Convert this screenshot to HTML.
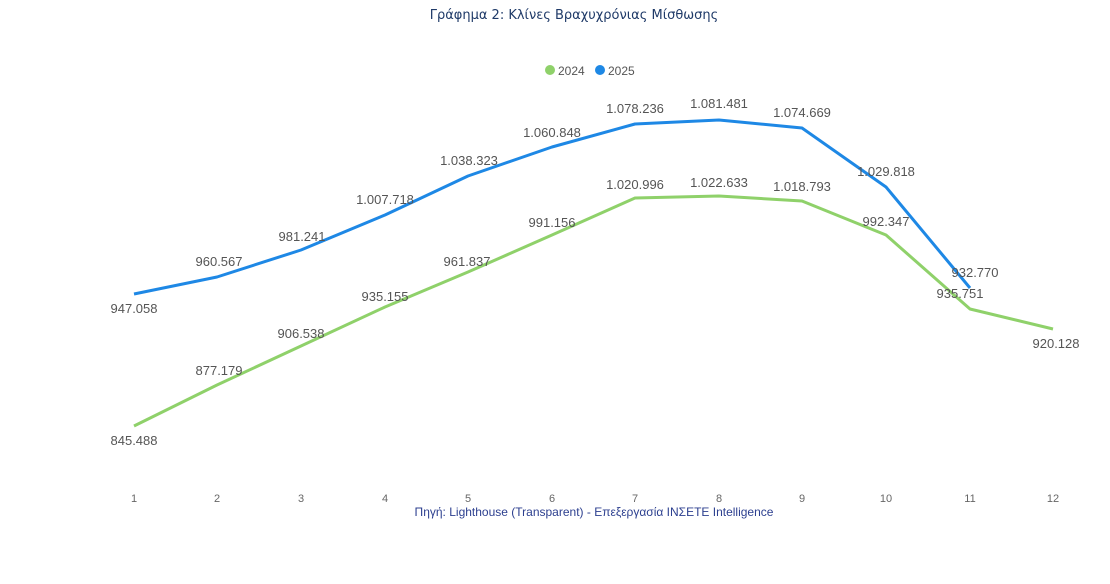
<!DOCTYPE html>
<html><head><meta charset="utf-8"><style>
body{margin:0;background:#fff;width:1110px;height:584px;overflow:hidden}
svg{display:block}
text{font-family:"Liberation Sans","DejaVu Sans",sans-serif}
.t{font-family:"DejaVu Sans",sans-serif}
</style></head><body>
<svg width="1110" height="584" viewBox="0 0 1110 584">
<text class="t" x="574" y="19" text-anchor="middle" font-size="13" fill="#1f3a68">Γράφημα 2: Κλίνες Βραχυχρόνιας Μίσθωσης</text>
<circle cx="550" cy="70" r="5" fill="#8fd16a"/>
<text x="558" y="75" font-size="12" fill="#555">2024</text>
<circle cx="600" cy="70" r="5" fill="#1e88e5"/>
<text x="608" y="75" font-size="12" fill="#555">2025</text>
<polyline fill="none" stroke="#8fd16a" stroke-width="3" stroke-linejoin="round" points="134,426 217,385 301,346 385,307 468,272 552,235 635,198 719,196 802,201 886,235 970,309 1053,329"/>
<polyline fill="none" stroke="#1e88e5" stroke-width="3" stroke-linejoin="round" points="134,294 217,277 301,250 385,215 468,176 552,147 635,124 719,120 802,128 886,187 970,288"/>
<g font-size="13" fill="#555" text-anchor="middle">
<text x="134" y="313">947.058</text><text x="219" y="266">960.567</text><text x="302" y="241">981.241</text><text x="385" y="204">1.007.718</text><text x="469" y="165">1.038.323</text><text x="552" y="137">1.060.848</text><text x="635" y="113">1.078.236</text><text x="719" y="108">1.081.481</text><text x="802" y="117">1.074.669</text><text x="886" y="176">1.029.818</text><text x="975" y="277">932.770</text>
<text x="134" y="445">845.488</text><text x="219" y="375">877.179</text><text x="301" y="338">906.538</text><text x="385" y="301">935.155</text><text x="467" y="266">961.837</text><text x="552" y="227">991.156</text><text x="635" y="189">1.020.996</text><text x="719" y="187">1.022.633</text><text x="802" y="191">1.018.793</text><text x="886" y="226">992.347</text><text x="960" y="298">935.751</text><text x="1056" y="348">920.128</text>
</g>
<g font-size="11" fill="#666" text-anchor="middle">
<text x="134" y="502">1</text><text x="217" y="502">2</text><text x="301" y="502">3</text><text x="385" y="502">4</text><text x="468" y="502">5</text><text x="552" y="502">6</text><text x="635" y="502">7</text><text x="719" y="502">8</text><text x="802" y="502">9</text><text x="886" y="502">10</text><text x="970" y="502">11</text><text x="1053" y="502">12</text>
</g>
<text x="594" y="516" text-anchor="middle" font-size="12" fill="#2c3f8f">Πηγή: Lighthouse (Transparent) - Επεξεργασία INΣΕΤΕ Intelligence</text>
</svg>
</body></html>
